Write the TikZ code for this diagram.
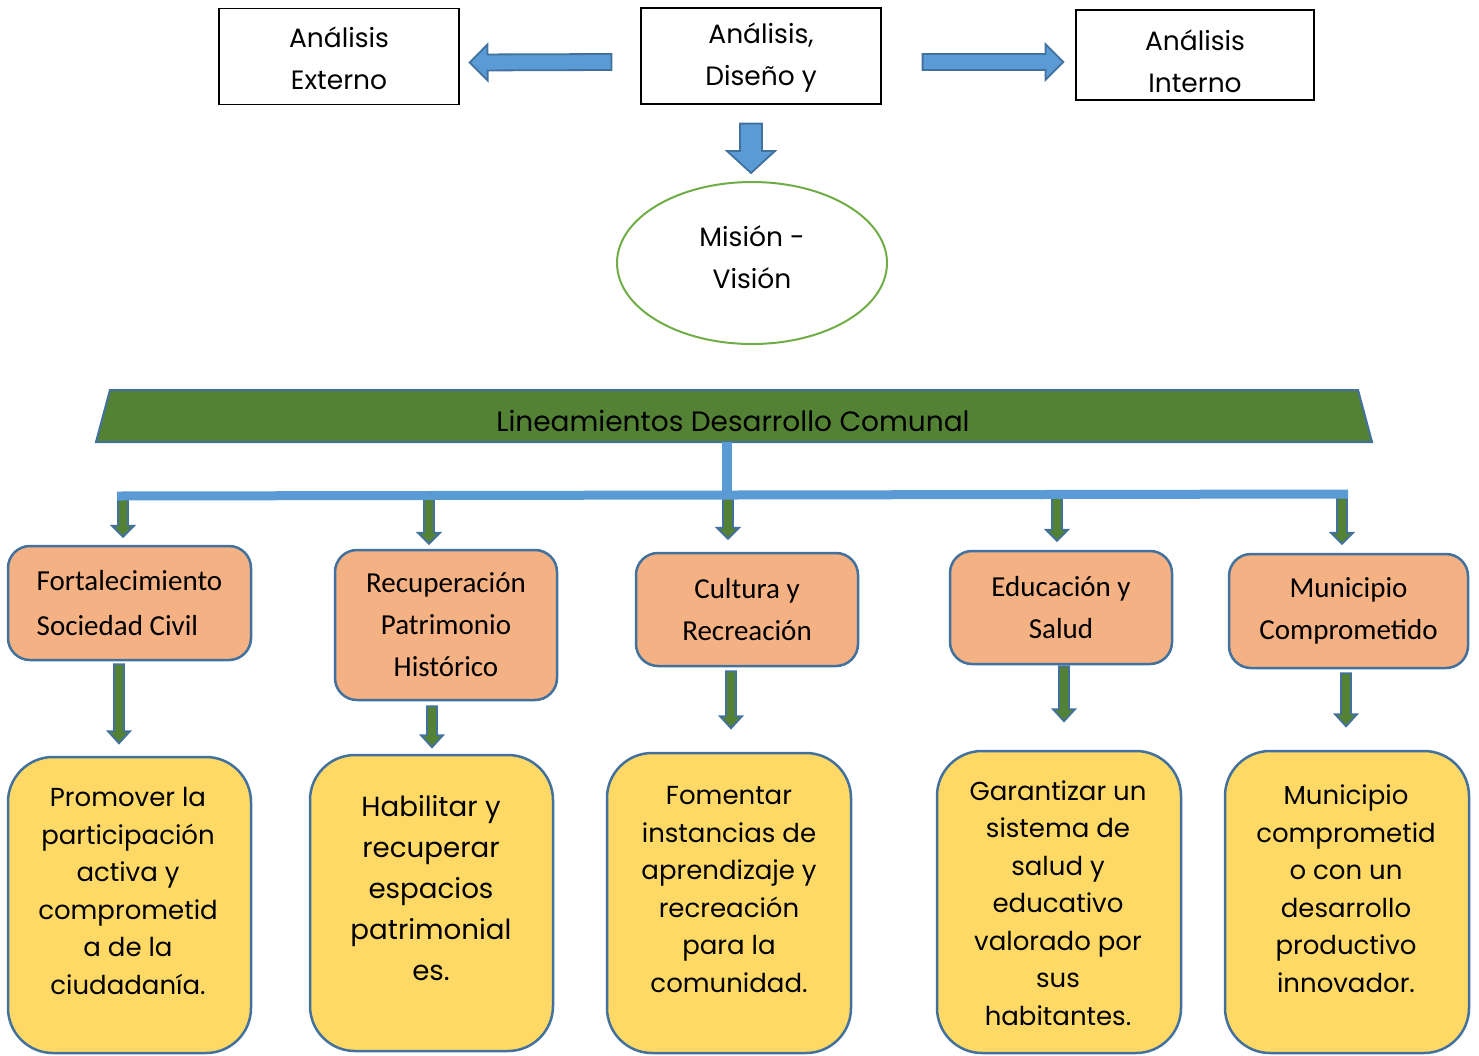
\documentclass[tikz,border=0pt]{standalone}
\usepackage{fontspec}
\setmainfont{Poppins}
\newfontfamily\calfont{Carlito}
\usetikzlibrary{shapes.geometric,calc}

\definecolor{arrblue}{HTML}{5B9BD5}
\definecolor{edgeblue}{HTML}{41719C}
\definecolor{leafgreen}{HTML}{548235}
\definecolor{ringgreen}{HTML}{70AD47}
\definecolor{peach}{HTML}{F4B183}
\definecolor{sand}{HTML}{FFD966}

% block arrow: style, from, to, shaft half width, head half width, head length
\newcommand{\blockarr}[6]{%
  \draw[#1] let \p1=(#2), \p2=(#3), \p3=($(\p2)!#6!(\p1)$) in
    ($(\p1)!#4!90:(\p2)$) -- ($(\p3)!#4!-90:(\p1)$) -- ($(\p3)!#5!-90:(\p1)$)
    -- (\p2) -- ($(\p3)!#5!90:(\p1)$) -- ($(\p3)!#4!90:(\p1)$)
    -- ($(\p1)!#4!-90:(\p2)$) -- cycle;}

\begin{document}
\begin{tikzpicture}[x=1pt,y=-1pt,
  topbox/.style={draw=black, line width=1.2pt, rectangle, minimum width=240pt,
                 minimum height=96pt},
  toptext/.style={align=center, inner sep=0pt, font=\fontsize{26.5}{42}\selectfont},
  mision/.style={draw=ringgreen, line width=2pt, ellipse, minimum width=270pt,
                 minimum height=162pt},
  lineam/.style={draw=edgeblue, fill=leafgreen, line width=2pt, line join=miter},
  branch/.style={draw=edgeblue, fill=peach, line width=2.5pt, rectangle,
                 rounded corners=22pt, align=center,
                 font=\calfont\fontsize{29}{42}\selectfont},
  goal/.style={draw=edgeblue, fill=sand, line width=2.5pt, rectangle,
               rounded corners=45pt},
  goaltext/.style={align=center, inner sep=0pt, font=\fontsize{26}{37.5}\selectfont},
  toparr/.style={draw=edgeblue, fill=arrblue, line width=1.8pt},
  subarr/.style={draw=edgeblue, fill=leafgreen, line width=1.8pt},
  trunk/.style={arrblue, line width=9pt}
]
\useasboundingbox (0,0) rectangle (1479,1055);

% top row
\node[topbox] (ext) at (339,56.5) {};
\node[topbox] (dis) at (761,56) {};
\node[topbox, minimum width=238pt, minimum height=90pt] (int) at (1195,55) {};
\node[toptext] (extt) at (339,58.5) {Análisis\\Externo};
\node[toptext] (dist) at (761,58) {Análisis,\\Diseño y};
\node[toptext] (intt) at (1195,61) {Análisis\\Interno};
\node[mision] (mv) at (752,263) {};
\node[toptext] (mvt) at (752,257) {Misión -\\Visión};

\blockarr{toparr}{[shift={(-29,6)}]dis.west}{[shift={(10,6)}]ext.east}{8pt}{18pt}{18pt}
\blockarr{toparr}{[shift={(41,6)}]dis.east}{[shift={(-12,7)}]int.west}{8pt}{18pt}{18pt}
\blockarr{toparr}{[shift={(-10,19)}]dis.south}{[shift={(-1,-8)}]mv.north}{11pt}{24pt}{22pt}

% lineamientos
\draw[lineam] (96,442) -- (110,390) -- (1358,390) -- (1372,442) -- cycle;
\coordinate (lin-base) at (734,442);
\node[toptext, font=\fontsize{28}{30}\selectfont] (lint) at (733,421) {Lineamientos Desarrollo Comunal};

\node[branch, align=left, minimum width=243pt, minimum height=114pt, font=\calfont\fontsize{29}{45}\selectfont]
  (o1) at (129.5,603) {Fortalecimiento\\Sociedad Civil};
\node[branch, minimum width=222pt, minimum height=150pt] (o2) at (446,625) {Recuperación\\Patrimonio\\Histórico};
\node[branch, minimum width=222pt, minimum height=113pt] (o3) at (747,609.5) {Cultura y\\Recreación};
\node[branch, minimum width=222pt, minimum height=113pt] (o4) at (1061,607.5) {Educación y\\Salud};
\node[branch, minimum width=239pt, minimum height=114pt] (o5) at (1348.5,611) {Municipio\\Comprometido};

\coordinate (barL) at (117,496);
\coordinate (barR) at (1348,494);
\coordinate (hub) at (727,495);

\foreach \b/\dx/\gap in {o1/-6.5/8, o2/-17/5, o3/-19/13, o4/-4/9, o5/-6.5/9}{
  \coordinate (\b-tip) at ([shift={(\dx,-\gap)}]\b.north);
  \coordinate (\b-root) at (\b-tip |- barL);
  \blockarr{subarr}{\b-root}{\b-tip}{5pt}{11pt}{11pt}
}
\draw[trunk, line width=10pt] (hub |- lin-base) -- (hub);
\draw[trunk] (barL) -- (barR);

% goals
\node[goal, minimum width=243pt, minimum height=296pt] (g1) at (129.5,905) {};
\node[goal, minimum width=243pt, minimum height=296pt] (g2) at (431.5,903) {};
\node[goal, minimum width=244pt, minimum height=300pt] (g3) at (729,903) {};
\node[goal, minimum width=244pt, minimum height=302pt] (g4) at (1059,902) {};
\node[goal, minimum width=244pt, minimum height=302pt] (g5) at (1347,902) {};

\node[goaltext] (g1t) at (128,891) {Promover la\\participación\\activa y\\comprometid\\a de la\\ciudadanía.};
\node[goaltext, font=\fontsize{27.7}{41}\selectfont] (g2t) at (431,888) {Habilitar y\\recuperar\\espacios\\patrimonial\\es.};
\node[goaltext] (g3t) at (729,889.5) {Fomentar\\instancias de\\aprendizaje y\\recreación\\para la\\comunidad.};
\node[goaltext] (g4t) at (1058,903) {Garantizar un\\sistema de\\salud y\\educativo\\valorado por\\sus\\habitantes.};
\node[goaltext] (g5t) at (1346,888.5) {Municipio\\comprometid\\o con un\\desarrollo\\productivo\\innovador.};

\foreach \b/\dx/\s/\e in {o1/-10.5/3/82, o2/-14/5/46, o3/-16/4/61, o4/3/1/56, o5/-2.5/4/57}{
  \blockarr{subarr}{[shift={(\dx,\s)}]\b.south}{[shift={(\dx,\e)}]\b.south}{5pt}{11pt}{12pt}
}
\end{tikzpicture}
\end{document}
